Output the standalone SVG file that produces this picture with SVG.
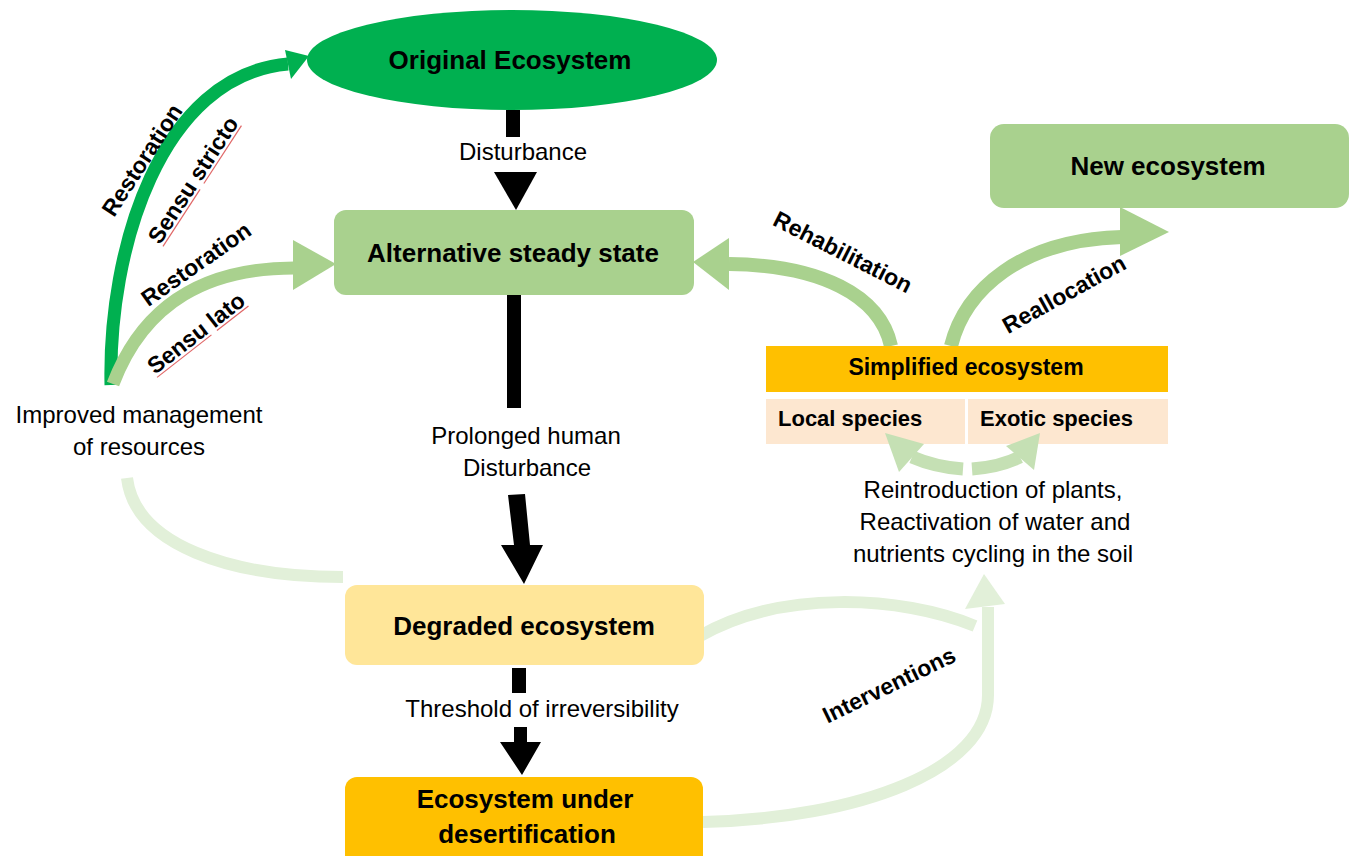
<svg xmlns="http://www.w3.org/2000/svg" width="1360" height="856" viewBox="0 0 1360 856">
<defs>
<style>
.t{font-family:"Liberation Sans",Arial,sans-serif;fill:#000}
.b{font-weight:bold}
.nl{font-size:26px;font-weight:bold;text-anchor:middle}
.rl{font-size:24px;text-anchor:middle}
.rot{font-size:23px;font-weight:bold;text-anchor:middle}
.blk{fill:#000}
.sq{stroke:#E06666;stroke-width:1.2;fill:none}
</style>
</defs>
<rect width="1360" height="856" fill="#fff"/>

<g id="connectors">
  <!-- Restoration sensu stricto -->
  <path d="M 111 385 C 108 250 160 75 288 64" fill="none" stroke="#00B050" stroke-width="13"/>
  <polygon points="285,50 309,56 291,79" fill="#00B050"/>
  <!-- Restoration sensu lato -->
  <path d="M 113 384 C 145 300 210 268 294 268" fill="none" stroke="#A9D18E" stroke-width="13"/>
  <polygon points="293,240 336,264 293,290" fill="#A9D18E"/>
  <!-- Disturbance -->
  <rect x="506" y="110" width="14" height="27" class="blk"/>
  <polygon points="494,172 537,172 516,210" class="blk"/>
  <!-- Prolonged human disturbance -->
  <rect x="507" y="295" width="14" height="113" class="blk"/>
  <polygon points="508,495 525,494 530,545 543,545 524,584 501,545 514,545" class="blk"/>
  <!-- Threshold -->
  <rect x="512" y="668" width="14" height="25" class="blk"/>
  <polygon points="514,727 527,727 527,742 541,742 522,775 500,742 514,742" class="blk"/>
  <!-- Rehabilitation -->
  <path d="M 891 346 C 880 295 820 265 729 264" fill="none" stroke="#A9D18E" stroke-width="14"/>
  <polygon points="729,238 693,262 729,290" fill="#A9D18E"/>
  <!-- Reallocation -->
  <path d="M 951 346 C 965 290 1020 240 1122 237" fill="none" stroke="#A9D18E" stroke-width="14"/>
  <polygon points="1120,207 1169,232 1120,256" fill="#A9D18E"/>
  <!-- Reintroduction small arrows -->
  <path d="M 963 469 Q 935 467 912 457" fill="none" stroke="#C5E0B4" stroke-width="13"/>
  <path d="M 972 469 Q 1000 467 1020 457" fill="none" stroke="#C5E0B4" stroke-width="13"/>
  <!-- Improved management link -->
  <path d="M 127 478 C 135 545 230 577 343 577" fill="none" stroke="#E2F0D9" stroke-width="12"/>
  <!-- Interventions from degraded -->
  <path d="M 700 636 C 780 590 900 595 975 626" fill="none" stroke="#E2F0D9" stroke-width="12"/>
  <!-- Interventions from desertification -->
  <path d="M 703 822 C 860 818 988 770 988 695 L 988 607" fill="none" stroke="#E2F0D9" stroke-width="12"/>
  <polygon points="965,609 984,574 1005,604" fill="#E2F0D9"/>

  <!-- connector labels -->
  <g transform="translate(142,160) rotate(-57)"><text class="t rot" x="0" y="8">Restoration</text></g>
  <g transform="translate(193,180) rotate(-57)"><text class="t rot" x="0" y="8">Sensu stricto</text>
    <line class="sq" x1="-72" y1="11" x2="-4" y2="11"/><line class="sq" x1="3" y1="11" x2="72" y2="11"/></g>
  <g transform="translate(196,264) rotate(-35)"><text class="t rot" x="0" y="8">Restoration</text></g>
  <g transform="translate(196,333) rotate(-38)"><text class="t rot" x="0" y="8">Sensu lato</text>
    <line class="sq" x1="-58" y1="11" x2="11" y2="11"/><line class="sq" x1="18" y1="11" x2="58" y2="11"/></g>
  <g transform="translate(843,252) rotate(27)"><text class="t rot" x="0" y="8">Rehabilitation</text></g>
  <g transform="translate(1064,294) rotate(-29)"><text class="t rot" x="0" y="8">Reallocation</text></g>
  <g transform="translate(889,685) rotate(-26)"><text class="t rot" x="0" y="8">Interventions</text></g>

  <text class="t rl" x="523" y="160">Disturbance</text>
  <text class="t rl" x="526" y="444">Prolonged human</text>
  <text class="t rl" x="527" y="476">Disturbance</text>
  <text class="t rl" x="542" y="717">Threshold of irreversibility</text>
</g>

<g id="original">
  <ellipse cx="512" cy="60" rx="205" ry="50" fill="#00B050"/>
  <text class="t nl" x="510" y="69">Original Ecosystem</text>
</g>
<g id="alternative">
  <rect x="334" y="210" width="360" height="85" rx="12" fill="#A9D18E"/>
  <text class="t nl" x="513" y="262">Alternative steady state</text>
</g>
<g id="degraded">
  <rect x="345" y="585" width="359" height="80" rx="12" fill="#FFE699"/>
  <text class="t nl" x="524" y="635">Degraded ecosystem</text>
</g>
<g id="desertification">
  <rect x="345" y="777" width="358" height="95" rx="12" fill="#FFC000"/>
  <text class="t nl" x="525" y="808">Ecosystem under</text>
  <text class="t nl" x="527" y="843">desertification</text>
</g>
<g id="new">
  <rect x="990" y="124" width="359" height="84" rx="14" fill="#A9D18E"/>
  <text class="t nl" x="1168" y="175">New ecosystem</text>
</g>
<g id="simplified">
  <rect x="766" y="346" width="402" height="46" fill="#FFC000"/>
  <text class="t b" x="966" y="375" font-size="23" text-anchor="middle">Simplified ecosystem</text>
</g>
<g id="local">
  <rect x="766" y="399" width="199" height="45" fill="#FDE7D0"/>
  <text class="t b" x="778" y="426" font-size="22">Local species</text>
</g>
<g id="exotic">
  <rect x="968" y="399" width="200" height="45" fill="#FDE7D0"/>
  <text class="t b" x="980" y="426" font-size="22">Exotic species</text>
</g>
<g id="reintro-arrowheads">
  <polygon points="924,444 885,433 899,472" fill="#C5E0B4"/>
  <polygon points="1006,446 1040,433 1034,470" fill="#C5E0B4"/>
</g>
<g id="reintroduction">
  <text class="t rl" x="993" y="498">Reintroduction of plants,</text>
  <text class="t rl" x="995" y="530">Reactivation of water and</text>
  <text class="t rl" x="993" y="562">nutrients cycling in the soil</text>
</g>
<g id="improved">
  <text class="t rl" x="139" y="423">Improved management</text>
  <text class="t rl" x="139" y="455">of resources</text>
</g>
</svg>
